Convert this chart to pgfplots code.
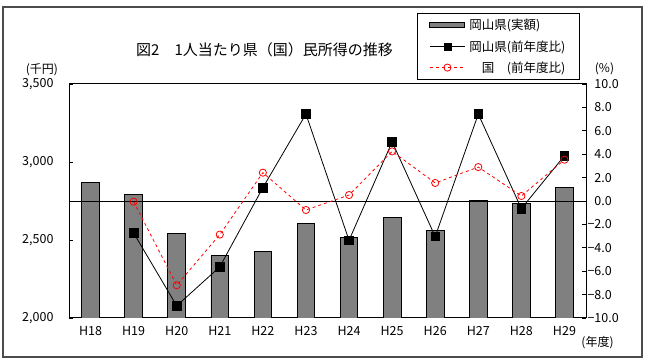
\documentclass[border=0pt]{standalone}
\usepackage{fontspec}
\setmainfont{Noto Sans CJK JP}
\usepackage{pgfplots}
\pgfplotsset{compat=1.18}
\begin{document}
\begin{tikzpicture}[x=1pt,y=1pt]
\path (0,0) rectangle (651,364);
\draw[line width=1.2pt, draw=black!70] (3,7) rectangle (642,357);
\node at (264.5,314) {\fontsize{15}{18}\selectfont 図2　1人当たり県（国）民所得の推移};
\node at (42,294) {\fontsize{12}{14}\selectfont (千円)};
\node at (604.5,295) {\fontsize{12}{14}\selectfont (\%)};
\node at (597.5,21) {\fontsize{12}{14}\selectfont (年度)};
\begin{axis}[at={(69pt,46pt)}, anchor=south west, scale only axis,
  width=517pt, height=234pt,
  xmin=-0.5, xmax=11.5, ymin=2000, ymax=3500,
  ytick={2000,2500,3000,3500},
  yticklabels={{2,000},{2,500},{3,000},{3,500}},
  xtick={0,...,11},
  xticklabels={H18,H19,H20,H21,H22,H23,H24,H25,H26,H27,H28,H29},
  major x tick style={draw=none},
  tick align=inside, major tick length=4pt,
  ytick pos=left,
  axis line style={line width=1pt},
  tick style={line width=0.8pt, black},
  yticklabel style={font=\fontsize{12.5}{14}\selectfont, xshift=-12pt},
  xticklabel style={font=\fontsize{12.5}{14}\selectfont, yshift=-5pt},
]
\addplot[ybar, bar width=17.7pt, fill=black!50, draw=black, line width=0.8pt]
  coordinates {(0,2870) (1,2794) (2,2542) (3,2401) (4,2427) (5,2606)
               (6,2518) (7,2646) (8,2563) (9,2753) (10,2734) (11,2838)};
\end{axis}
\begin{axis}[at={(69pt,46pt)}, anchor=south west, scale only axis,
  width=517pt, height=234pt,
  xmin=-0.5, xmax=11.5, ymin=-10, ymax=10,
  axis x line=none, axis y line*=right,
  y axis line style={-, line width=1pt},
  ytick={-10,-8,-6,-4,-2,0,2,4,6,8,10},
  yticklabels={−10.0,−8.0,−6.0,−4.0,−2.0,\phantom{−}0.0,\phantom{−}2.0,\phantom{−}4.0,\phantom{−}6.0,\phantom{−}8.0,\phantom{−}10.0},
  tick align=inside, major tick length=4pt,
  tick style={line width=0.8pt, black},
  yticklabel style={font=\fontsize{12.5}{14}\selectfont, anchor=west, xshift=-2pt},
  legend style={at={(0.673,1.3034)}, anchor=north west, draw=black, line width=1pt,
    font=\fontsize{12.5}{14}\selectfont, inner xsep=12pt, inner ysep=4pt, row sep=5pt,
    legend cell align=left,
    /tikz/every odd column/.append style={column sep=2pt}},
]
\addlegendimage{legend image code/.code={\draw[fill=black!50,draw=black,line width=1pt] (0pt,-2.5pt) rectangle (35pt,2.5pt);}}
\addlegendentry{岡山県(実額)}
\addplot[black, forget plot, line width=0.8pt] coordinates {(-0.5,0) (11.5,0)};
\addplot[black, line width=0.8pt, mark=square*, mark size=4.3pt,
  legend image code/.code={\draw[mark repeat=2,mark phase=2,mark size=3.5pt] plot coordinates {(0pt,0pt)(17.5pt,0pt)(35pt,0pt)};}]
  coordinates {(1,-2.73) (2,-8.96) (3,-5.63) (4,1.14) (5,7.43) (6,-3.36)
               (7,5.06) (8,-3.04) (9,7.43) (10,-0.65) (11,3.87)};
\addlegendentry{岡山県(前年度比)}
\addplot[red, dashed, line width=0.8pt, mark=o, mark size=3.6pt,
  mark options={solid, fill=white},
  legend image code/.code={\draw[mark repeat=2,mark phase=2] plot coordinates {(0pt,0pt)(17.5pt,0pt)(35pt,0pt)};}]
  coordinates {(1,-0.06) (2,-7.2) (3,-2.87) (4,2.42) (5,-0.77) (6,0.51)
               (7,4.24) (8,1.54) (9,2.9) (10,0.43) (11,3.53)};
\addlegendentry{　国　(前年度比)}
\end{axis}
\end{tikzpicture}
\end{document}
